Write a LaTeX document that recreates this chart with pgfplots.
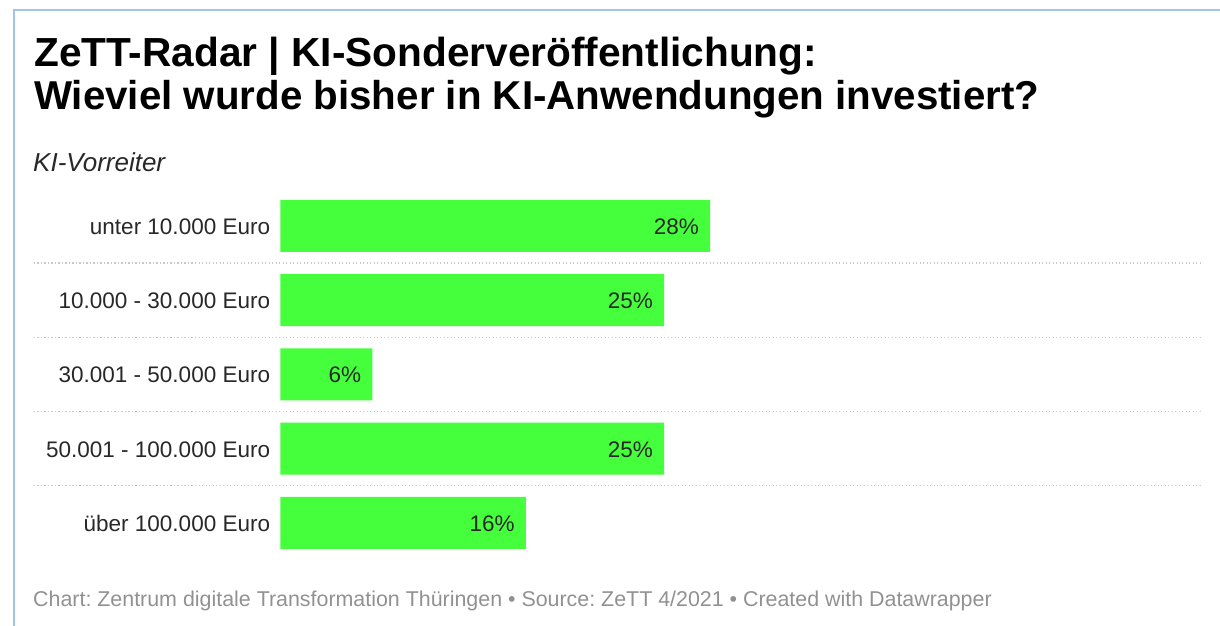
\documentclass[border=0pt]{standalone}
\usepackage{fontspec}
\setmainfont{Liberation Sans}
\usepackage{pgfplots}
\pgfplotsset{compat=1.18}
\definecolor{bargreen}{RGB}{69,255,61}
\definecolor{txt}{RGB}{40,40,40}
\definecolor{foot}{RGB}{145,145,145}
\definecolor{frameblue}{RGB}{160,196,232}
\definecolor{sep}{RGB}{200,200,200}
\frenchspacing
\begin{document}
\begin{tikzpicture}
\useasboundingbox (0pt,0pt) rectangle (1220pt,626pt);
\draw[frameblue, line width=2pt] (13.5pt,0pt) -- (13.5pt,615.5pt) -- (1220pt,615.5pt);
\node[anchor=base west, inner sep=0pt, font=\fontsize{40.6}{44}\selectfont\bfseries] at (34pt,559pt) {ZeTT-Radar | KI-Sonderveröffentlichung:};
\node[anchor=base west, inner sep=0pt, font=\fontsize{40.3}{44}\selectfont\bfseries] at (34pt,516pt) {Wieviel wurde bisher in KI-Anwendungen investiert?};
\node[anchor=base west, inner sep=0pt, font=\fontsize{26}{30}\selectfont\itshape, text=txt] at (33pt,454pt) {KI-Vorreiter};
\node[anchor=base west, inner sep=0pt, font=\fontsize{21.4}{25}\selectfont, text=foot] at (33pt,19pt) {Chart: Zentrum digitale Transformation Thüringen • Source: ZeTT 4/2021 • Created with Datawrapper};
\begin{axis}[
  at={(280.3pt,65.9pt)}, anchor=south west,
  scale only axis, width=921.7pt, height=371.25pt,
  xmin=0, xmax=60.05, ymin=-0.5, ymax=4.5,
  xbar, bar width=52pt,
  axis line style={draw=none},
  xtick=\empty,
  ytick={0,1,2,3,4},
  yticklabels={über 100.000 Euro, 50.001 - 100.000 Euro, 30.001 - 50.000 Euro, 10.000 - 30.000 Euro, unter 10.000 Euro},
  major tick length=0pt,
  yticklabel style={anchor=base east, inner sep=0pt, xshift=-10pt, yshift=-8.5pt, font=\fontsize{22.5}{26}\selectfont, text=txt},
  clip=false,
  /pgf/number format/assume math mode=true,
  point meta=x,
  nodes near coords={\pgfmathprintnumber{\pgfplotspointmeta}\%},
  every node near coord/.append style={anchor=base east, inner sep=0pt, xshift=-11pt, yshift=-8.5pt, font=\fontsize{22.5}{26}\selectfont, text=txt},
]
\addplot[fill=bargreen, draw=none] coordinates {(16,0) (25,1) (6,2) (25,3) (28,4)};
\draw[sep, dash pattern=on 1.2pt off 2.3pt, line width=1.2pt] ([xshift=-246.3pt]axis cs:0,0.5) -- (axis cs:60.05,0.5);
\draw[sep, dash pattern=on 1.2pt off 2.3pt, line width=1.2pt] ([xshift=-246.3pt]axis cs:0,1.5) -- (axis cs:60.05,1.5);
\draw[sep, dash pattern=on 1.2pt off 2.3pt, line width=1.2pt] ([xshift=-246.3pt]axis cs:0,2.5) -- (axis cs:60.05,2.5);
\draw[sep, dash pattern=on 1.2pt off 2.3pt, line width=1.2pt] ([xshift=-246.3pt]axis cs:0,3.5) -- (axis cs:60.05,3.5);
\end{axis}
\end{tikzpicture}
\end{document}
